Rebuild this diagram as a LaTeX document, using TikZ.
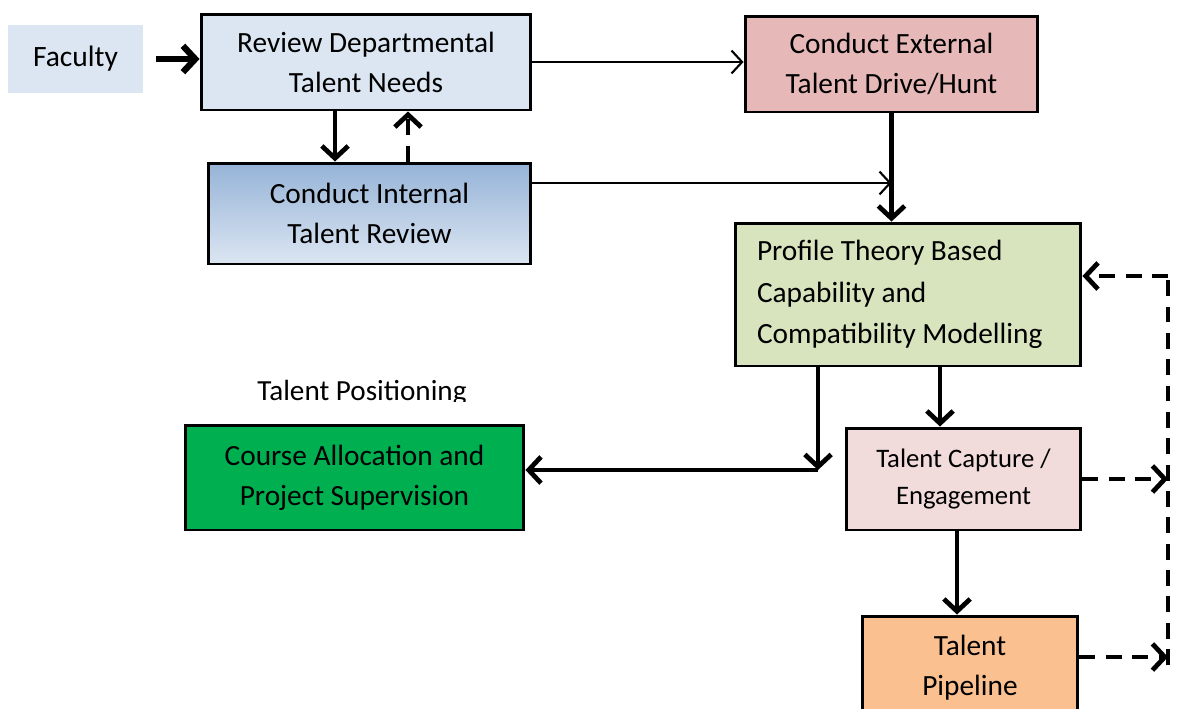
\documentclass[tikz,border=0pt]{standalone}
\usepackage{fontspec}
\setmainfont{Carlito}
\usetikzlibrary{arrows.meta}
\definecolor{lblue}{HTML}{DCE6F2}
\definecolor{mblue}{HTML}{95B3D7}
\definecolor{pinkred}{HTML}{E6B9B8}
\definecolor{lgreen}{HTML}{D7E4BD}
\definecolor{dgreen}{HTML}{00B050}
\definecolor{lpink}{HTML}{F2DCDB}
\definecolor{lorange}{HTML}{FAC090}
\tikzset{
  box/.style={draw=black, line width=1.7pt, align=center, inner sep=0pt,
    font=\fontsize{16.7}{22.8}\selectfont},
  thickarr/.style={line width=2.7pt, -{Straight Barb[length=7pt,width=15pt]}},
  thinarr/.style={line width=1.2pt, -{Straight Barb[length=6pt,width=13pt]}},
  dasharr/.style={line width=2.7pt, dash pattern=on 9pt off 6pt, -{Straight Barb[length=7pt,width=15pt]}},
  dashline/.style={line width=2.7pt, dash pattern=on 9pt off 6pt},
}
\begin{document}
\begin{tikzpicture}[x=0.02cm,y=-0.02cm]
\clip (0,0) rectangle (1177,708);
\fill[white] (0,0) rectangle (1177,708);

\node[fill=lblue, minimum width=2.7cm, minimum height=1.36cm, inner sep=0pt,
  font=\fontsize{16.8}{22.8}\selectfont] (fac) at (75.5,59) {Faculty};
\node[box, fill=lblue, minimum width=6.6cm, minimum height=1.92cm] (rev) at (366,62)
  {Review Departmental\\Talent Needs};
\node[box, top color=mblue, bottom color=lblue, minimum width=6.46cm, minimum height=2.02cm] (int) at (369.5,213.5)
  {Conduct Internal\\Talent Review};
\node[box, fill=pinkred, minimum width=5.86cm, minimum height=1.92cm] (ext) at (891.5,64)
  {Conduct External\\Talent Drive/Hunt};
\node[box, fill=lgreen, minimum width=6.92cm, minimum height=2.86cm, text width=6.04cm, align=flush left,
  font=\fontsize{16.7}{23.6}\selectfont] (prof) at (908,294.5)
  {Profile Theory Based\\Capability and\\Compatibility Modelling};
\node[box, fill=dgreen, minimum width=6.78cm, minimum height=2.1cm] (course) at (354.5,477.5)
  {Course Allocation and\\Project Supervision};
\node[box, fill=lpink, minimum width=4.7cm, minimum height=2.04cm,
  font=\fontsize{15.2}{21}\selectfont] (cap) at (963.5,479)
  {Talent Capture /\\Engagement};
\node[box, fill=lorange, minimum width=4.32cm, minimum height=2.08cm] (pipe) at (970,668)
  {Talent\\Pipeline};

\begin{scope}
\clip (200,370) rectangle (520,401);
\node[font=\fontsize{16.6}{20}\selectfont] (tp) at (362,393) {Talent Positioning};
\end{scope}

% connectors
\draw[thickarr, line width=3.6pt, shorten <=7pt] (fac.east) -- (rev.west |- fac.east);
\draw[thinarr] (rev.east) -- (rev.east -| ext.west);
\draw[thickarr] ([xshift=-0.62cm]rev.south) -- ([xshift=-0.62cm]rev.south |- int.north);
\draw[dasharr] ([xshift=0.77cm]int.north) -- ([xshift=0.77cm]int.north |- rev.south);
\coordinate (s1) at ([yshift=0.61cm]int.east);
\draw[thinarr] (s1) -- (s1 -| ext.south);
\draw[thickarr] (ext.south) -- (ext.south |- prof.north);
\coordinate (bend) at (818,470);
\draw[thickarr] (bend |- prof.south) -- (bend);
\draw[thickarr] (bend) -- (bend -| course.east);
\draw[thickarr] ([xshift=0.64cm]prof.south) -- ([xshift=0.64cm]prof.south |- cap.north);
\draw[thickarr] ([xshift=-0.13cm]cap.south) -- ([xshift=-0.13cm]cap.south |- pipe.north);
\coordinate (dtop) at (1168,276);
\coordinate (dbot) at (1168,665);
\draw[dashline] (dbot) -- (dtop);
\draw[dasharr] (dtop) -- (dtop -| prof.east);
\draw[dasharr] (cap.east) -- (cap.east -| dtop);
\coordinate (p1) at ([yshift=0.22cm]pipe.east);
\draw[dasharr] (p1) -- (p1 -| dtop);
\end{tikzpicture}
\end{document}
